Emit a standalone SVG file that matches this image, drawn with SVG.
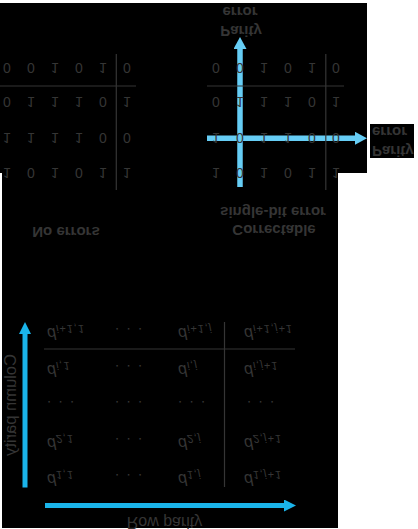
<svg xmlns="http://www.w3.org/2000/svg" width="418" height="529" viewBox="0 0 418 529">
<style>
text{font-family:"Liberation Sans",Arial,sans-serif;fill:#353535}
.dg{font-size:14px;text-anchor:middle}
.lb{font-size:15px;font-weight:bold}
.ax{font-size:16.5px}
.d{font-size:16px;font-style:italic}
.sub{font-size:11px;letter-spacing:1px}
.dots{font-size:15px;letter-spacing:1.6px}
.rule{stroke:#353535;stroke-width:1.2;fill:none}
.a1{stroke:#66cdf5;stroke-width:5.5;fill:none}
.a2{stroke:#1ab4ea;stroke-width:5;fill:none}
</style>
<defs>
<marker id="h1" markerUnits="userSpaceOnUse" viewBox="0 0 12 13" markerWidth="12" markerHeight="13" refX="1" refY="6.5" orient="auto"><path d="M0,0 L12,6.5 L0,13 Z" fill="#66cdf5"/></marker>
<marker id="h2" markerUnits="userSpaceOnUse" viewBox="0 0 12 12" markerWidth="12" markerHeight="12" refX="1" refY="6" orient="auto"><path d="M0,0 L12,6 L0,12 Z" fill="#1ab4ea"/></marker>
</defs>
<rect x="0" y="0" width="418" height="529" fill="#ffffff"/>
<g id="background" fill="#000000">
<rect x="0" y="3" width="367" height="170"/>
<rect x="2" y="172" width="336" height="356"/>
<rect x="370" y="124" width="44" height="34"/>
</g>
<g id="grid-no-errors">
<line class="rule" x1="0" y1="86" x2="136" y2="86"/>
<line class="rule" x1="116.3" y1="54" x2="116.3" y2="190"/>
<text class="dg" transform="translate(0,62.5) scale(1,-1)" x="7 31 55 79 103 127">001010</text>
<text class="dg" transform="translate(0,97) scale(1,-1)" x="7 31 55 79 103 127">011101</text>
<text class="dg" transform="translate(0,132.5) scale(1,-1)" x="7 31 55 79 103 127">111100</text>
<text class="dg" transform="translate(0,168) scale(1,-1)" x="7 31 55 79 103 127">101011</text>
<text class="lb" transform="translate(66,227) scale(1,-1)" text-anchor="middle">No errors</text>
</g>
<g id="connectors">
<line class="a1" x1="240" y1="187" x2="240" y2="48" marker-end="url(#h1)"/>
<line class="a1" x1="207" y1="138.3" x2="356" y2="138.3" marker-end="url(#h1)"/>
<line class="a2" x1="25" y1="487.5" x2="25" y2="333" marker-end="url(#h2)"/>
<line class="a2" x1="45" y1="505.5" x2="285" y2="505.5" marker-end="url(#h2)"/>
</g>
<g id="grid-correctable">
<line class="rule" x1="207" y1="86" x2="344" y2="86"/>
<line class="rule" x1="325.8" y1="54" x2="325.8" y2="190"/>
<text class="dg" transform="translate(0,62.5) scale(1,-1)" x="216 240 264 288 312 336">001010</text>
<text class="dg" transform="translate(0,97) scale(1,-1)" x="216 240 264 288 312 336">011101</text>
<text class="dg" transform="translate(0,132.5) scale(1,-1)" x="216 240 264 288 312 336">101100</text>
<text class="dg" transform="translate(0,168) scale(1,-1)" x="216 240 264 288 312 336">101011</text>
<text class="lb" transform="translate(273,207) scale(1,-1)" text-anchor="middle">single-bit error</text>
<text class="lb" transform="translate(274,225) scale(1,-1)" text-anchor="middle">Correctable</text>
</g>
<g id="label-parity-error-column">
<text class="lb" transform="translate(240,7) scale(1,-1)" text-anchor="middle">error</text>
<text class="lb" transform="translate(241,26) scale(1,-1)" text-anchor="middle">Parity</text>
</g>
<g id="label-parity-error-row">
<text class="lb" transform="translate(372,127) scale(1,-1)">error</text>
<text class="lb" transform="translate(372,146) scale(1,-1)">Parity</text>
</g>
<g id="parity-matrix">
<line class="rule" x1="44" y1="349" x2="295" y2="349"/>
<line class="rule" x1="224.5" y1="322" x2="224.5" y2="487"/>
<text class="d" transform="translate(47,328) scale(1,-1)">d<tspan class="sub" dy="3">i+1,1</tspan></text>
<text class="dots" transform="translate(115,328) scale(1,-1)">. . .</text>
<text class="d" transform="translate(178,328) scale(1,-1)">d<tspan class="sub" dy="3">i+1,j</tspan></text>
<text class="d" transform="translate(244,328) scale(1,-1)">d<tspan class="sub" dy="3">i+1,j+1</tspan></text>
<text class="d" transform="translate(47,365) scale(1,-1)">d<tspan class="sub" dy="3">i,1</tspan></text>
<text class="dots" transform="translate(115,365) scale(1,-1)">. . .</text>
<text class="d" transform="translate(178,365) scale(1,-1)">d<tspan class="sub" dy="3">i,j</tspan></text>
<text class="d" transform="translate(244,365) scale(1,-1)">d<tspan class="sub" dy="3">i,j+1</tspan></text>
<text class="dots" transform="translate(47,401) scale(1,-1)">. . .</text>
<text class="dots" transform="translate(115,401) scale(1,-1)">. . .</text>
<text class="dots" transform="translate(178,401) scale(1,-1)">. . .</text>
<text class="dots" transform="translate(247,401) scale(1,-1)">. . .</text>
<text class="d" transform="translate(47,438) scale(1,-1)">d<tspan class="sub" dy="3">2,1</tspan></text>
<text class="dots" transform="translate(115,438) scale(1,-1)">. . .</text>
<text class="d" transform="translate(178,438) scale(1,-1)">d<tspan class="sub" dy="3">2,j</tspan></text>
<text class="d" transform="translate(244,438) scale(1,-1)">d<tspan class="sub" dy="3">2,j+1</tspan></text>
<text class="d" transform="translate(47,474) scale(1,-1)">d<tspan class="sub" dy="3">1,1</tspan></text>
<text class="dots" transform="translate(115,474) scale(1,-1)">. . .</text>
<text class="d" transform="translate(178,474) scale(1,-1)">d<tspan class="sub" dy="3">1,j</tspan></text>
<text class="d" transform="translate(244,474) scale(1,-1)">d<tspan class="sub" dy="3">1,j+1</tspan></text>
<text class="ax" transform="translate(164.5,516.5) scale(1,-1)" text-anchor="middle" style="font-size:16px">Row parity</text>
<text class="ax" transform="translate(15.5,405) scale(1,-1) rotate(-90)" text-anchor="middle">Column parity</text>
</g>
</svg>
